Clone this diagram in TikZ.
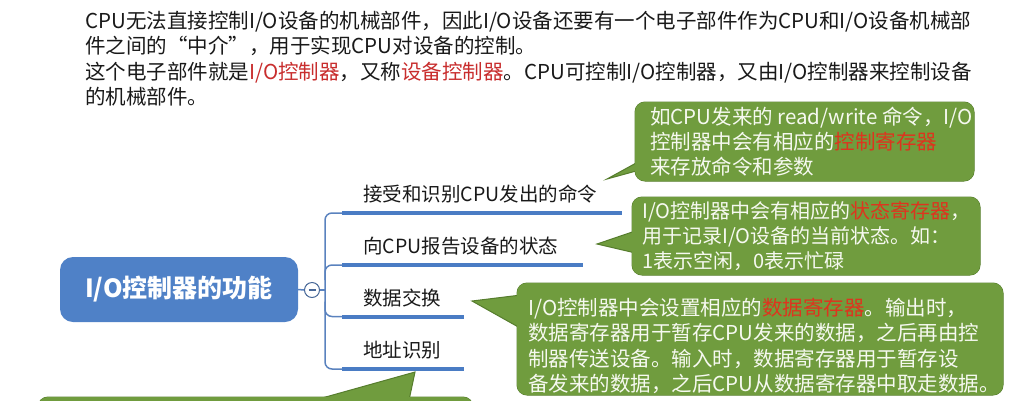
\documentclass[tikz,border=0pt]{standalone}
\usepackage{fontspec}
\setmainfont{Noto Sans CJK SC}
\definecolor{cgreen}{RGB}{112,156,62}
\definecolor{cgreenD}{RGB}{86,125,45}
\definecolor{ctxt}{RGB}{246,249,240}
\definecolor{cred}{RGB}{222,52,30}
\definecolor{tred}{RGB}{200,45,45}
\definecolor{mblue}{RGB}{79,129,199}
\definecolor{ublue}{RGB}{74,124,196}
\definecolor{bblue}{RGB}{90,130,190}
\begin{document}
\begin{tikzpicture}[x=1pt,y=-1pt,
  cbox/.style={fill=cgreen, draw=cgreenD, line width=1pt, rounded corners=10pt},
  cptr/.style={fill=cgreen, draw=cgreenD, line width=1pt},
  cfill/.style={fill=cgreen, rounded corners=10pt},
  ctext/.style={text=ctxt, align=left, inner sep=0pt, anchor=west},
  toptext/.style={text=black!90, align=left, inner sep=0pt, anchor=west,
    font=\fontsize{20.5}{25.5}\selectfont},
  item/.style={inner sep=0pt, anchor=west, text=black!90, font=\fontsize{19.5}{22}\selectfont},
  uline/.style={draw=ublue, line width=4pt},
  brk/.style={draw=bblue, line width=1.5pt, rounded corners=7pt},
  mainbox/.style={fill=mblue, rounded corners=13pt, text=white,
    font=\bfseries\fontsize{25}{28}\selectfont, inner sep=0pt},
  collapse/.style={circle, draw=bblue!80!black, fill=white, line width=1pt,
    minimum size=15pt, inner sep=0pt}]
\useasboundingbox (0,0) rectangle (1011,400);
\clip (0,0) rectangle (1011,400);

% top paragraph
\node[toptext] (intro) at (85,58.5) {CPU无法直接控制I/O设备的机械部件，因此I/O设备还要有一个电子部件作为CPU和I/O设备机械部\\
件之间的“中介”，用于实现CPU对设备的控制。\\
这个电子部件就是\textcolor{tred}{I/O控制器}，又称\textcolor{tred}{设备控制器}。CPU可控制I/O控制器，又由I/O控制器来控制设备\\
的机械部件。};

% main node and collapse button
\node[mainbox, minimum width=238pt, minimum height=65pt] (main) at (179,289.5) {I/O控制器的功能};
\node[collapse] (col) at (312,290) {};
\draw[bblue!80!black, line width=1.2pt] ([xshift=-3.5pt]col.center) -- ([xshift=3.5pt]col.center);

% branch coordinates
\coordinate (hub) at (325,290);
\coordinate (u1s) at (342,213);   \coordinate (u1e) at (622,213);
\coordinate (u2s) at (342,265);   \coordinate (u2e) at (583,265);
\coordinate (u3s) at (342,316.5); \coordinate (u3e) at (464,316.5);
\coordinate (u4s) at (342,369);   \coordinate (u4e) at (464,369);

\draw[brk] (main.east) -- (col.west);
\draw[brk] (col.east) -- (hub);
\draw[brk] (u1s) -- (u1s -| hub) -- (u4s -| hub) -- (u4s);
\draw[brk] (u2s) -- (u2s -| hub) -- ([yshift=-15pt]u2s -| hub);
\draw[brk] ([yshift=15pt]u3s -| hub) -- (u3s -| hub) -- (u3s);

\draw[uline] (u1s) -- (u1e);
\draw[uline] (u2s) -- (u2e);
\draw[uline] (u3s) -- (u3e);
\draw[uline] (u4s) -- (u4e);

\node[item] (i1) at (363,194.5) {接受和识别CPU发出的命令};
\node[item] (i2) at (363,246.5) {向CPU报告设备的状态};
\node[item] (i3) at (363,298) {数据交换};
\node[item] (i4) at (363,350.5) {地址识别};

% callout 1
\path[cbox] (635,102) rectangle (974,181);
\path[cptr] (647,157) -- (607,179) -- (647,168) -- cycle;
\path[cfill] (635,102) rectangle (974,181);
\node[ctext, font=\fontsize{20.5}{25}\selectfont] (c1) at (650,142) {如CPU发来的 read/write 命令，I/O\\
控制器中会有相应的\textcolor{cred}{控制寄存器}\\
来存放命令和参数};

% callout 2
\path[cbox] (632,197) rectangle (980,275);
\path[cptr] (644,228) -- (597,244) -- (644,255) -- cycle;
\path[cfill] (632,197) rectangle (980,275);
\node[ctext, font=\fontsize{20}{25}\selectfont] (c2) at (642,236) {I/O控制器中会有相应的\textcolor{cred}{状态寄存器}，\\
用于记录I/O设备的当前状态。如：\\
1表示空闲，0表示忙碌};

% callout 3
\path[cbox] (517,283) rectangle (1003,395);
\path[cptr] (529,294) -- (472,301) -- (529,333) -- cycle;
\path[cfill] (517,283) rectangle (1003,395);
\node[ctext, font=\fontsize{20.5}{25.5}\selectfont] (c3) at (528,346) {I/O控制器中会设置相应的\textcolor{cred}{数据寄存器}。输出时，\\
数据寄存器用于暂存CPU发来的数据，之后再由控\\
制器传送设备。输入时，数据寄存器用于暂存设\\
备发来的数据，之后CPU从数据寄存器中取走数据。};

% callout 4 (cut off at bottom)
\path[cbox] (38,397) rectangle (473,445);
\path[cptr] (297,405) -- (415,372) -- (408,405) -- cycle;
\path[cfill] (38,397) rectangle (473,445);
\end{tikzpicture}
\end{document}
